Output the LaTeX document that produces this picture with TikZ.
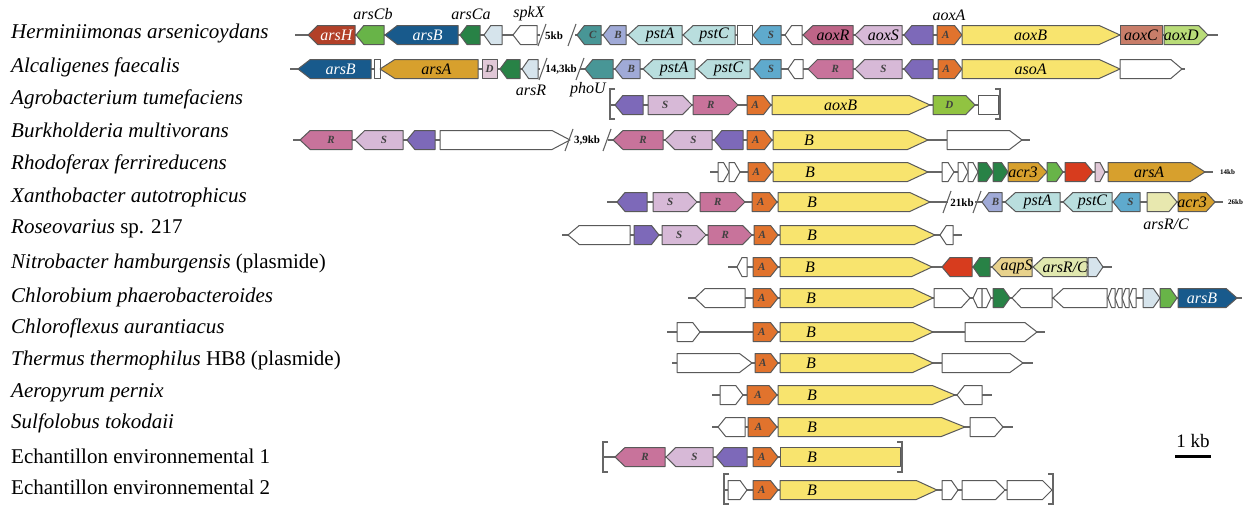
\documentclass[tikz,border=0pt]{standalone}
\usepackage{fontspec}
\setmainfont{Liberation Serif}
\newcounter{gcnt}
\definecolor{cArsH}{RGB}{178,64,40}
\definecolor{cGrn}{RGB}{104,180,72}
\definecolor{cArsB}{RGB}{24,90,140}
\definecolor{cDG}{RGB}{40,130,70}
\definecolor{cPB}{RGB}{214,228,236}
\definecolor{cTeal}{RGB}{72,150,150}
\definecolor{cLav}{RGB}{160,170,215}
\definecolor{cCyan}{RGB}{185,222,222}
\definecolor{cS}{RGB}{95,170,205}
\definecolor{cR}{RGB}{200,115,155}
\definecolor{cAoxR}{RGB}{190,100,135}
\definecolor{cLil}{RGB}{215,185,215}
\definecolor{cPur}{RGB}{125,105,185}
\definecolor{cA}{RGB}{225,115,45}
\definecolor{cY}{RGB}{248,228,110}
\definecolor{cAoxC}{RGB}{200,125,105}
\definecolor{cAoxD}{RGB}{185,220,120}
\definecolor{cGold}{RGB}{215,160,45}
\definecolor{cPink}{RGB}{225,200,215}
\definecolor{cRed}{RGB}{215,60,30}
\definecolor{cDlg}{RGB}{145,195,65}
\definecolor{cPY}{RGB}{232,232,175}
\definecolor{cTan}{RGB}{232,210,140}
\definecolor{cPYG}{RGB}{225,232,175}
\tikzset{
 gene/.style={draw=black!65,line width=1pt,line join=round},
 bb/.style={draw=black!60,line width=1.1pt},
 glab/.style={font=\fontsize{16}{16}\selectfont\itshape,inner sep=0pt},
 gwh/.style={glab,text=white},
 gsm/.style={font=\fontsize{11}{11}\selectfont\bfseries\itshape,inner sep=0pt,text=black!75},
 sp/.style={anchor=base west,font=\fontsize{21}{24}\selectfont\itshape,inner sep=0pt},
 kbt/.style={font=\fontsize{11}{11}\selectfont\bfseries,inner sep=0pt},
 kbs/.style={font=\fontsize{7}{7}\selectfont\bfseries,inner sep=0pt,anchor=west},
}
\newcommand\gh{9.5}
% \gene{dir}{x1}{x2}{y}{fill}{label style}{label}
\newcommand\gene[7]{%
 \pgfmathsetmacro\gL{#3-#2}%
 \pgfmathsetmacro\gT{min(0.5*\gL,5+0.1*\gL)}%
 \if#1r%
   \draw[gene,fill=#5] (#2,{#4-\gh}) -- ({#3-\gT},{#4-\gh}) -- (#3,#4) -- ({#3-\gT},{#4+\gh}) -- (#2,{#4+\gh}) -- cycle;%
   \pgfmathsetmacro\gc{(#2+#3-\gT)/2}%
 \else\if#1l%
   \draw[gene,fill=#5] (#3,{#4-\gh}) -- ({#2+\gT},{#4-\gh}) -- (#2,#4) -- ({#2+\gT},{#4+\gh}) -- (#3,{#4+\gh}) -- cycle;%
   \pgfmathsetmacro\gc{(#2+#3+\gT)/2}%
 \else
   \draw[gene,fill=#5] (#2,{#4-\gh}) rectangle (#3,{#4+\gh});%
   \pgfmathsetmacro\gc{(#2+#3)/2}%
 \fi\fi
 \stepcounter{gcnt}%
 \node[#6] (g\arabic{gcnt}) at (\gc,#4) {#7};%
}
\newcommand\bline[3]{\draw[bb] (#1,#3) -- (#2,#3);}
\newcommand\brk[2]{\draw[bb] ({#1-4},{#2+11}) -- ({#1+4},{#2-11});}
\newcommand\lbr[2]{\draw[bb] ({#1+5},{#2-15}) -- (#1,{#2-15}) -- (#1,{#2+15}) -- ({#1+5},{#2+15});}
\newcommand\rbr[2]{\draw[bb] ({#1-5},{#2-15}) -- (#1,{#2-15}) -- (#1,{#2+15}) -- ({#1-5},{#2+15});}
\begin{document}
\begin{tikzpicture}[x=1pt,y=-1pt]
\useasboundingbox (0,0) rectangle (1254,506);
\fill[white] (0,0) rectangle (1254,506);
% species names
\node[sp] (s1) at (11,38) {Herminiimonas arsenicoydans};
\node[sp] (s2) at (11,72) {Alcaligenes faecalis};
\node[sp] (s3) at (11,104) {Agrobacterium tumefaciens};
\node[sp] (s4) at (11,137) {Burkholderia multivorans};
\node[sp] (s5) at (11,169) {Rhodoferax ferrireducens};
\node[sp] (s6) at (11,202) {Xanthobacter autotrophicus};
\node[sp] (s7) at (11,233) {Roseovarius {\upshape sp. 217}};
\node[sp] (s8) at (11,268) {Nitrobacter hamburgensis {\upshape (plasmide)}};
\node[sp] (s9) at (11,302) {Chlorobium phaerobacteroides};
\node[sp] (s10) at (11,333) {Chloroflexus aurantiacus};
\node[sp] (s11) at (11,365) {Thermus thermophilus {\upshape HB8 (plasmide)}};
\node[sp] (s12) at (11,397) {Aeropyrum pernix};
\node[sp] (s13) at (11,428) {Sulfolobus tokodaii};
\node[sp] (s14) at (11,463) {\upshape Echantillon environnemental 1};
\node[sp] (s15) at (11,494) {\upshape Echantillon environnemental 2};

% ---------- Row 1 : Herminiimonas (y=35)
\bline{295}{540}{35}\bline{575}{1218}{35}
\gene{l}{308}{355}{35}{cArsH}{gwh}{arsH}
\gene{l}{356}{384}{35}{cGrn}{}{}
\gene{l}{385}{458}{35}{cArsB}{gwh}{arsB}
\gene{l}{460}{480}{35}{cDG}{}{}
\gene{l}{484}{502}{35}{cPB}{}{}
\gene{l}{513}{537}{35}{white}{}{}
\brk{542}{35}\node[kbt] (k1) at (554,36) {5kb};\brk{572}{35}
\gene{l}{577}{601}{35}{cTeal}{gsm}{C}
\gene{l}{603}{626}{35}{cLav}{gsm}{B}
\gene{l}{628}{682}{35}{cCyan}{glab}{pstA}
\gene{l}{683}{735}{35}{cCyan}{glab}{pstC}
\gene{b}{737}{752}{35}{white}{}{}
\gene{l}{753}{781}{35}{cS}{gsm}{S}
\gene{l}{785}{802}{35}{white}{}{}
\gene{l}{803}{853}{35}{cAoxR}{glab}{aoxR}
\gene{l}{855}{902}{35}{cLil}{glab}{aoxS}
\gene{l}{904}{933}{35}{cPur}{}{}
\gene{r}{937}{962}{35}{cA}{gsm}{A}
\gene{r}{962}{1120}{35}{cY}{glab}{aoxB}
\gene{b}{1120}{1162}{35}{cAoxC}{glab}{aoxC}
\gene{r}{1164}{1208}{35}{cAoxD}{glab}{aoxD}
\node[glab] (t1) at (373,14) {arsCb};
\node[glab] (t2) at (471,14) {arsCa};
\node[glab] (t3) at (529,14) {spkX};
\node[glab] (t4) at (949,15) {aoxA};

% ---------- Row 2 : Alcaligenes (y=69)
\bline{290}{540}{69}\bline{580}{1185}{69}
\gene{l}{298}{371}{69}{cArsB}{gwh}{arsB}
\gene{b}{374}{380}{69}{white}{}{}
\gene{l}{380}{478}{69}{cGold}{glab}{arsA}
\gene{b}{482}{497}{69}{cPink}{gsm}{D}
\gene{l}{500}{520}{69}{cDG}{}{}
\gene{l}{522}{538}{69}{cPB}{}{}
\brk{543}{69}\node[kbt] (k2) at (561,70) {14,3kb};\brk{580}{69}
\gene{l}{585}{613}{69}{cTeal}{}{}
\gene{l}{615}{640}{69}{cLav}{gsm}{B}
\gene{l}{643}{695}{69}{cCyan}{glab}{pstA}
\gene{l}{697}{750}{69}{cCyan}{glab}{pstC}
\gene{l}{753}{781}{69}{cS}{gsm}{S}
\gene{l}{788}{803}{69}{white}{}{}
\gene{l}{808}{853}{69}{cR}{gsm}{R}
\gene{l}{855}{902}{69}{cLil}{gsm}{S}
\gene{l}{904}{933}{69}{cPur}{}{}
\gene{r}{938}{962}{69}{cA}{gsm}{A}
\gene{r}{962}{1120}{69}{cY}{glab}{asoA}
\gene{r}{1120}{1182}{69}{white}{}{}
\node[glab] (t5) at (531,90) {arsR};
\node[glab] (t6) at (588,90) {phoU};

% ---------- Row 3 : Agrobacterium (y=105)
\bline{610}{1000}{105}
\lbr{610}{104}\rbr{1000}{104}
\gene{l}{615}{643}{105}{cPur}{}{}
\gene{r}{648}{692}{105}{cLil}{gsm}{S}
\gene{r}{693}{738}{105}{cR}{gsm}{R}
\gene{r}{747}{771}{105}{cA}{gsm}{A}
\gene{r}{772}{930}{105}{cY}{glab}{aoxB}
\gene{r}{933}{975}{105}{cDlg}{gsm}{D}
\gene{b}{978}{998}{105}{white}{}{}

% ---------- Row 4 : Burkholderia (y=140)
\bline{293}{568}{140}\bline{608}{1030}{140}
\gene{l}{300}{352}{140}{cR}{gsm}{R}
\gene{l}{355}{403}{140}{cLil}{gsm}{S}
\gene{l}{407}{435}{140}{cPur}{}{}
\gene{r}{440}{570}{140}{white}{}{}
\brk{569}{140}\node[kbt] (k3) at (587,141) {3,9kb};\brk{607}{140}
\gene{l}{613}{663}{140}{cR}{gsm}{R}
\gene{l}{665}{712}{140}{cLil}{gsm}{S}
\gene{l}{714}{743}{140}{cPur}{}{}
\gene{r}{747}{772}{140}{cA}{gsm}{A}
\gene{r}{773}{928}{140}{cY}{}{}
\node[glab] (b4) at (809,140) {B};
\gene{r}{947}{1022}{140}{white}{}{}

% ---------- Row 5 : Rhodoferax (y=172)
\bline{710}{1213}{172}
\gene{r}{718}{729}{172}{white}{}{}
\gene{r}{729}{740}{172}{white}{}{}
\gene{r}{748}{772}{172}{cA}{gsm}{A}
\gene{r}{773}{928}{172}{cY}{}{}
\node[glab] (b5) at (810,172) {B};
\gene{r}{942}{954}{172}{white}{}{}
\gene{r}{958}{968}{172}{white}{}{}
\gene{r}{968}{978}{172}{white}{}{}
\gene{r}{978}{993}{172}{cDG}{}{}
\gene{r}{993}{1008}{172}{cDG}{}{}
\gene{r}{1008}{1047}{172}{cGold}{glab}{acr3}
\gene{r}{1047}{1063}{172}{cGrn}{}{}
\gene{r}{1065}{1093}{172}{cRed}{}{}
\gene{r}{1095}{1105}{172}{cPink}{}{}
\gene{r}{1108}{1205}{172}{cGold}{glab}{arsA}
\node[kbs] (k4) at (1220,172) {14kb};

% ---------- Row 6 : Xanthobacter (y=202)
\bline{607}{948}{202}\bline{975}{1223}{202}
\gene{l}{617}{647}{202}{cPur}{}{}
\gene{r}{653}{697}{202}{cLil}{gsm}{S}
\gene{r}{700}{745}{202}{cR}{gsm}{R}
\gene{r}{752}{777}{202}{cA}{gsm}{A}
\gene{r}{778}{930}{202}{cY}{}{}
\node[glab] (b6) at (812,202) {B};
\brk{947}{202}\node[kbt] (k5) at (962,203) {21kb};\brk{977}{202}
\gene{l}{982}{1002}{202}{cLav}{gsm}{B}
\gene{l}{1005}{1060}{202}{cCyan}{glab}{pstA}
\gene{l}{1063}{1112}{202}{cCyan}{glab}{pstC}
\gene{l}{1113}{1140}{202}{cS}{gsm}{S}
\gene{r}{1147}{1177}{202}{cPY}{}{}
\gene{r}{1178}{1215}{202}{cGold}{glab}{acr3}
\node[kbs] (k6) at (1228,202) {26kb};
\node[glab] (t7) at (1166,224) {arsR/C};

% ---------- Row 7 : Roseovarius (y=235)
\bline{562}{962}{235}
\gene{l}{568}{630}{235}{white}{}{}
\gene{r}{634}{659}{235}{cPur}{}{}
\gene{r}{662}{706}{235}{cLil}{gsm}{S}
\gene{r}{708}{752}{235}{cR}{gsm}{R}
\gene{r}{754}{778}{235}{cA}{gsm}{A}
\gene{r}{780}{935}{235}{cY}{}{}
\node[glab] (b7) at (812,235) {B};
\gene{l}{940}{953}{235}{white}{}{}

% ---------- Row 8 : Nitrobacter (y=267)
\bline{728}{1112}{267}
\gene{l}{737}{747}{267}{white}{}{}
\gene{r}{753}{778}{267}{cA}{gsm}{A}
\gene{r}{780}{932}{267}{cY}{}{}
\node[glab] (b8) at (810,267) {B};
\gene{l}{942}{972}{267}{cRed}{}{}
\gene{l}{973}{990}{267}{cDG}{}{}
\gene{l}{992}{1032}{267}{cTan}{glab}{aqpS}
\gene{l}{1033}{1087}{267}{cPYG}{glab}{arsR/C}
\gene{r}{1088}{1103}{267}{cPB}{}{}

% ---------- Row 9 : Chlorobium (y=298)
\bline{688}{1242}{298}
\gene{l}{695}{745}{298}{white}{}{}
\gene{r}{753}{778}{298}{cA}{gsm}{A}
\gene{r}{780}{933}{298}{cY}{}{}
\node[glab] (b9) at (811,298) {B};
\gene{r}{934}{970}{298}{white}{}{}
\gene{l}{973}{982}{298}{white}{}{}
\gene{r}{982}{991}{298}{white}{}{}
\gene{r}{993}{1010}{298}{cDG}{}{}
\gene{l}{1012}{1052}{298}{white}{}{}
\gene{l}{1053}{1107}{298}{white}{}{}
\gene{l}{1108}{1115}{298}{white}{}{}
\gene{l}{1115}{1122}{298}{white}{}{}
\gene{l}{1122}{1129}{298}{white}{}{}
\gene{l}{1129}{1136}{298}{white}{}{}
\gene{r}{1143}{1160}{298}{cPB}{}{}
\gene{r}{1160}{1177}{298}{cGrn}{}{}
\gene{r}{1178}{1237}{298}{cArsB}{gwh}{arsB}

% ---------- Row 10 : Chloroflexus (y=332)
\bline{667}{1045}{332}
\gene{r}{677}{700}{332}{white}{}{}
\gene{r}{753}{778}{332}{cA}{gsm}{A}
\gene{r}{780}{933}{332}{cY}{}{}
\node[glab] (b10) at (811,332) {B};
\gene{r}{965}{1037}{332}{white}{}{}

% ---------- Row 11 : Thermus (y=363)
\bline{672}{1033}{363}
\gene{r}{677}{752}{363}{white}{}{}
\gene{r}{755}{778}{363}{cA}{gsm}{A}
\gene{r}{780}{933}{363}{cY}{}{}
\node[glab] (b11) at (811,363) {B};
\gene{r}{942}{1023}{363}{white}{}{}

% ---------- Row 12 : Aeropyrum (y=395)
\bline{712}{992}{395}
\gene{r}{720}{743}{395}{white}{}{}
\gene{r}{747}{777}{395}{cA}{gsm}{A}
\gene{r}{778}{955}{395}{cY}{}{}
\node[glab] (b12) at (812,395) {B};
\gene{l}{957}{982}{395}{white}{}{}

% ---------- Row 13 : Sulfolobus (y=427)
\bline{712}{1013}{427}
\gene{l}{718}{745}{427}{white}{}{}
\gene{r}{748}{777}{427}{cA}{gsm}{A}
\gene{r}{778}{965}{427}{cY}{}{}
\node[glab] (b13) at (812,427) {B};
\gene{r}{970}{1003}{427}{white}{}{}

% ---------- Row 14 : Echantillon 1 (y=457)
\bline{603}{900}{457}
\lbr{603}{457}\rbr{902}{457}
\gene{l}{615}{665}{457}{cR}{gsm}{R}
\gene{l}{666}{713}{457}{cLil}{gsm}{S}
\gene{l}{716}{747}{457}{cPur}{}{}
\gene{r}{753}{778}{457}{cA}{gsm}{A}
\gene{b}{780}{900}{457}{cY}{}{}
\node[glab] (b14) at (812,457) {B};

% ---------- Row 15 : Echantillon 2 (y=490)
\bline{724}{1053}{490}
\lbr{724}{489}\rbr{1053}{489}
\gene{r}{728}{747}{490}{white}{}{}
\gene{r}{753}{778}{490}{cA}{gsm}{A}
\gene{r}{780}{937}{490}{cY}{}{}
\node[glab] (b15) at (812,490) {B};
\gene{r}{942}{958}{490}{white}{}{}
\gene{r}{962}{1005}{490}{white}{}{}
\gene{r}{1007}{1052}{490}{white}{}{}

% ---------- scale bar
\node[font=\fontsize{19}{19}\selectfont,inner sep=0pt] (sc) at (1193,441) {1 kb};
\coordinate (sa) at (1175,456);
\coordinate (sb) at (1211,456);
\draw[line width=3pt] (sa) -- (sb);
\end{tikzpicture}
\end{document}
